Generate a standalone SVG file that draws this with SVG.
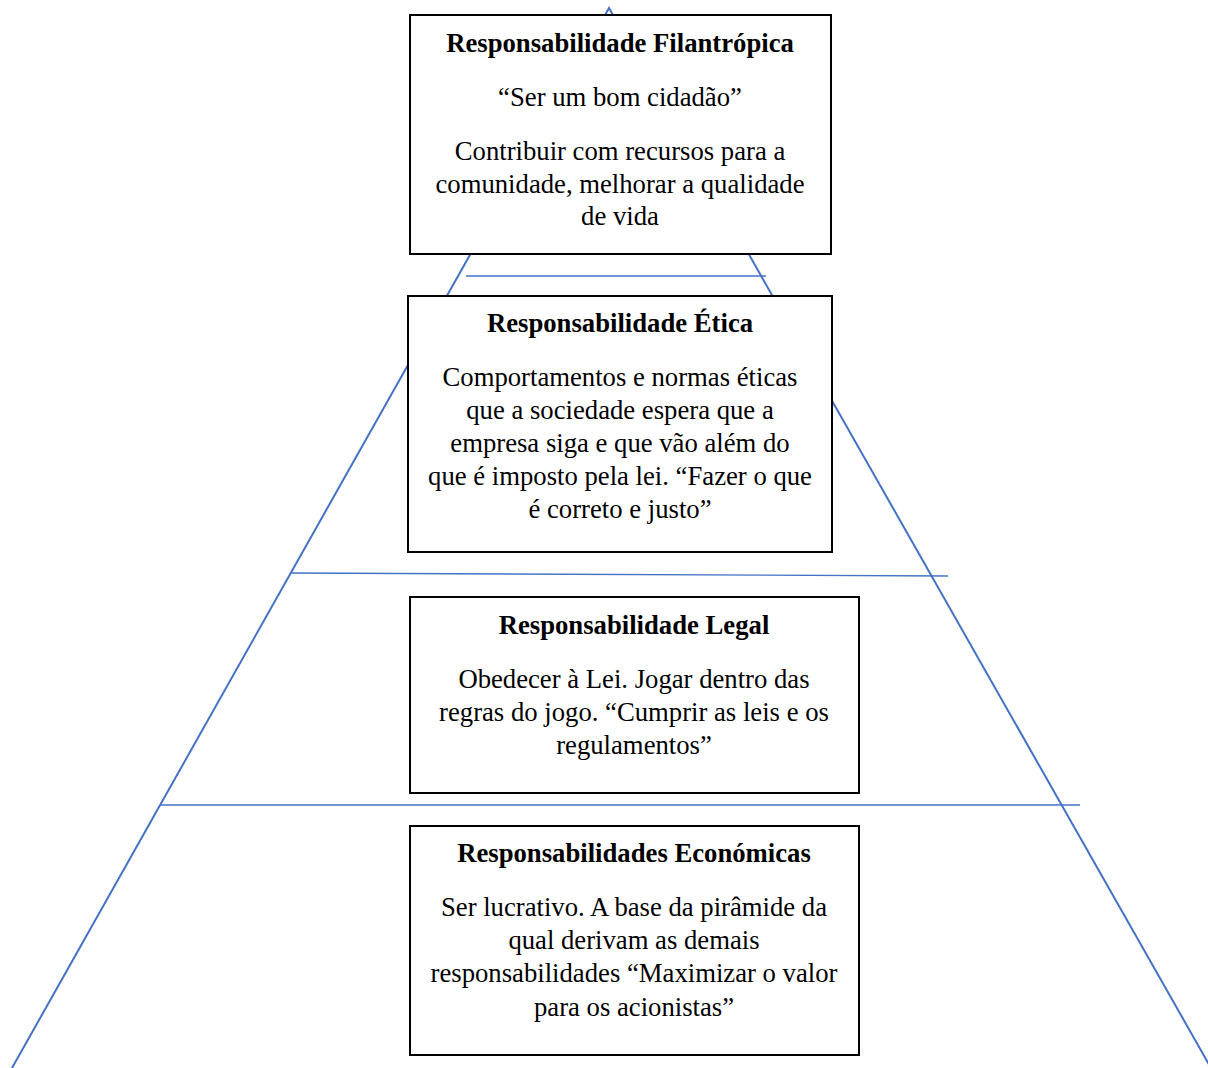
<svg xmlns="http://www.w3.org/2000/svg" width="1208" height="1068" viewBox="0 0 1208 1068">
<style>
.tri{fill:none;stroke:#4472C4;stroke-width:2}
.ln{stroke:#4472C4;stroke-width:1.3;fill:none}
.box{fill:#fff;stroke:#000;stroke-width:2}
text{font-family:"Liberation Serif","Times New Roman",serif;font-size:26.7px;fill:#000;text-anchor:middle}
.t{font-weight:bold}
</style>
<rect width="1208" height="1068" fill="#fff"/>
<g id="connectors">
<path class="tri" d="M12,1068 L609,8 L1211,1068"/>
<line class="ln" x1="466" y1="276" x2="766" y2="276"/>
<line class="ln" x1="290" y1="573" x2="948" y2="576"/>
<line class="ln" x1="161" y1="805" x2="1080" y2="805"/>
</g>
<g id="filantropica">
<rect class="box" x="410" y="15" width="421" height="239"/>
<text class="t" x="620" y="52">Responsabilidade Filantrópica</text>
<text x="620" y="106">“Ser um bom cidadão”</text>
<text x="620" y="160">Contribuir com recursos para a</text>
<text x="620" y="193">comunidade, melhorar a qualidade</text>
<text x="620" y="225">de vida</text>
</g>
<g id="etica">
<rect class="box" x="408" y="296" width="424" height="256"/>
<text class="t" x="620" y="332">Responsabilidade Ética</text>
<text x="620" y="386">Comportamentos e normas éticas</text>
<text x="620" y="419">que a sociedade espera que a</text>
<text x="620" y="452">empresa siga e que vão além do</text>
<text x="620" y="485">que é imposto pela lei. “Fazer o que</text>
<text x="620" y="518">é correto e justo”</text>
</g>
<g id="legal">
<rect class="box" x="410" y="597" width="449" height="196"/>
<text class="t" x="634" y="634">Responsabilidade Legal</text>
<text x="634" y="688">Obedecer à Lei. Jogar dentro das</text>
<text x="634" y="721">regras do jogo. “Cumprir as leis e os</text>
<text x="634" y="754">regulamentos”</text>
</g>
<g id="economicas">
<rect class="box" x="410" y="826" width="449" height="229"/>
<text class="t" x="634" y="862">Responsabilidades Económicas</text>
<text x="634" y="916">Ser lucrativo. A base da pirâmide da</text>
<text x="634" y="949">qual derivam as demais</text>
<text x="634" y="982">responsabilidades “Maximizar o valor</text>
<text x="634" y="1016">para os acionistas”</text>
</g>
</svg>
